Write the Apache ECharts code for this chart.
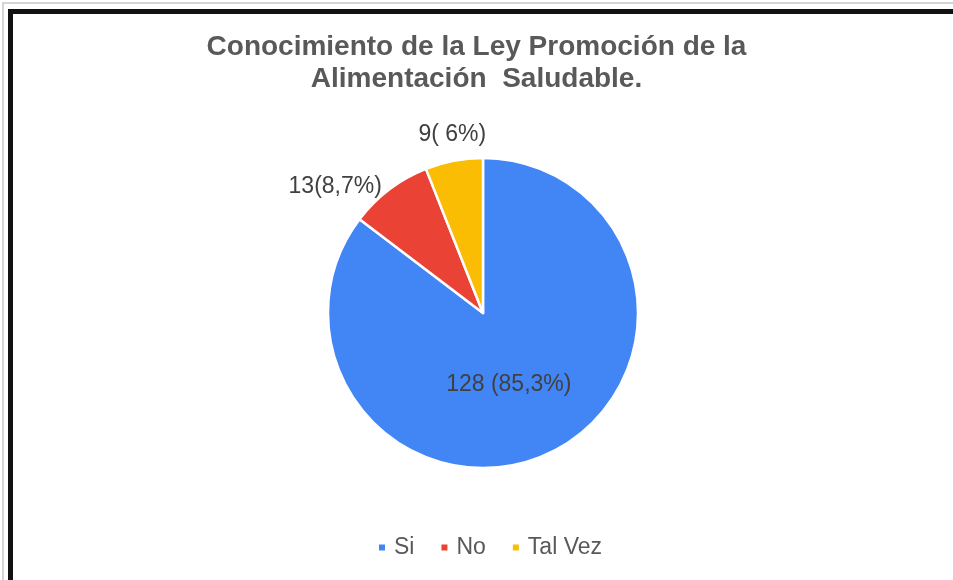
<!DOCTYPE html>
<html>
<head>
<meta charset="utf-8">
<script src="https://cdn.jsdelivr.net/npm/echarts@6/dist/echarts.min.js"></script>
<style>
  html, body { margin: 0; padding: 0; background: #fff; overflow: hidden; }
  #chart { position: absolute; left: 0; top: 0; width: 953px; height: 580px; }
  .frame { position: absolute; pointer-events: none; }
  #outer { left: 2px; top: 2px; width: 2000px; height: 2000px; border: 2px solid #d4d4d4; }
  #inner { left: 8px; top: 9px; width: 2000px; height: 2000px; border: 5px solid #111; }
</style>
</head>
<body>
<div id="chart"></div>
<div class="frame" id="outer"></div>
<div class="frame" id="inner"></div>
<script>
  // datos de la encuesta
  const categories = ['Si', 'No', 'Tal Vez']
  const values = [128, 13, 9]
  const labelTexts = ['128 (85,3%)', '13(8,7%)', '9( 6%)']
  const colors = ['#4285F4', '#EA4335', '#FBBC04']

  let chart = echarts.init(document.getElementById('chart'))

  let seriesData = categories.map((name, idx) => {
    let item = {
      name: name,
      value: values[idx],
      itemStyle: { color: colors[idx] },
      label: { formatter: labelTexts[idx] }
    }
    if (idx === 0) {
      item.label.position = 'inside'
      item.label.offset = [-10, 0]
    }
    if (idx === 2) {
      item.label.offset = [38, -22]
    }
    return item
  })

  let option = {
    backgroundColor: '#fff',
    title: {
      text: 'Conocimiento de la Ley Promoción de la\nAlimentación  Saludable.',
      left: 'center',
      top: 26,
      textStyle: {
        fontFamily: 'Liberation Sans, Arial, sans-serif',
        fontSize: 28,
        fontWeight: 'bold',
        color: '#595959',
        lineHeight: 32
      }
    },
    legend: {
      bottom: 16,
      left: 372,
      icon: 'rect',
      itemWidth: 8,
      itemHeight: 8,
      itemGap: 25,
      data: categories,
      textStyle: {
        fontFamily: 'Liberation Sans, Arial, sans-serif',
        fontSize: 23,
        color: '#595959',
        padding: [0, 0, 0, 3]
      }
    },
    tooltip: { show: false },
    series: [{
      type: 'pie',
      center: [483, 313],
      radius: 155,
      startAngle: 90,
      clockwise: true,
      silent: true,
      itemStyle: { borderColor: '#fff', borderWidth: 2.5 },
      label: {
        show: true,
        position: 'outside',
        fontFamily: 'Liberation Sans, Arial, sans-serif',
        fontSize: 23,
        color: '#404040'
      },
      labelLine: { show: false, length: 4, length2: 0 },
      data: seriesData
    }]
  }

  chart.setOption(option)
</script>
</body>
</html>
